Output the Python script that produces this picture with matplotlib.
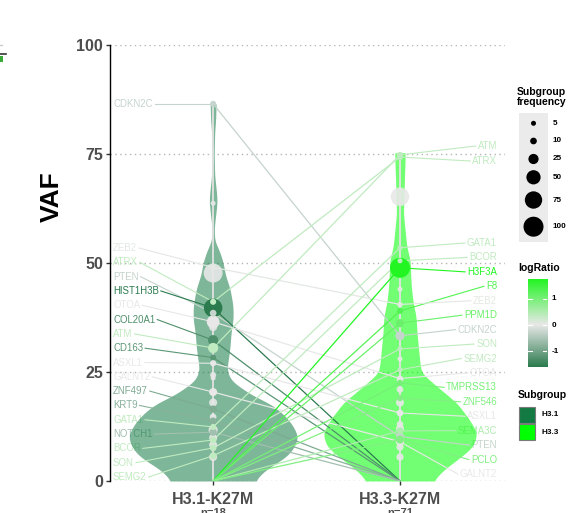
import numpy as np
import matplotlib
matplotlib.use("Agg")
import matplotlib.pyplot as plt
from matplotlib.colors import LinearSegmentedColormap, Normalize
from matplotlib.patches import Rectangle
from matplotlib.lines import Line2D

plt.rcParams['font.family'] = ['Liberation Sans', 'DejaVu Sans']

# ---------------- data ----------------
groups = ["H3.1-K27M", "H3.3-K27M"]
group_n = ["n=18", "n=71"]
group_colors = ["#137a43", "#00ff00"]

genes = ["CDKN2C", "ZEB2", "ATRX", "PTEN", "HIST1H3B", "OTOA", "COL20A1", "ATM", "CD163",
         "ASXL1", "GALNT2", "ZNF497", "KRT9", "GATA1", "NOTCH1", "BCOR", "SON", "SEMG2",
         "H3F3A", "F8", "PPM1D", "TMPRSS13", "ZNF546", "SEMA3C", "PCLO"]
vaf_h31 = [86.5, 49.0, 41.1, 38.5, 39.7, 36.5, 32.3, 30.5, 28.3, 27.0, 20.4, 16.5, 13.8,
           12.4, 11.2, 9.4, 7.6, 5.8, 0, 0, 0, 0, 0, 0, 0]
vaf_h33 = [33.3, 40.5, 74.3, 10.2, 0, 23.5, 0, 74.8, 0, 15.6, 9.0, 0, 0,
           53.5, 0, 50.5, 30.3, 25.5, 48.9, 39.0, 36.2, 22.5, 19.0, 11.5, 9.5]
freq_h31 = [8, 8, 8, 10, 85, 40, 25, 25, 8, 8, 15, 12, 10, 8, 12, 10, 10, 10, 0, 0, 0, 0, 0, 0, 0]
freq_h33 = [20, 5, 8, 15, 0, 8, 0, 8, 0, 10, 15, 0, 0, 5, 0, 5, 5, 5, 100, 8, 15, 8, 8, 10, 15]
log_ratio = [-0.3, 0.05, 0.35, -0.3, -1.61, 0.0, -1.3, 0.35, -1.2, 0.0, 0.0, -0.9, -0.8,
             0.35, -0.6, 0.35, 0.35, 0.35, 1.74, 1.3, 1.1, 1.0, 0.9, 0.5, 0.9]

left_label_order = ["CDKN2C", "ZEB2", "ATRX", "PTEN", "HIST1H3B", "OTOA", "COL20A1", "ATM",
                    "CD163", "ASXL1", "GALNT2", "ZNF497", "KRT9", "GATA1", "NOTCH1", "BCOR",
                    "SON", "SEMG2"]
right_label_order = ["ATM", "ATRX", "GATA1", "BCOR", "H3F3A", "F8", "ZEB2", "PPM1D", "CDKN2C",
                     "SON", "SEMG2", "OTOA", "TMPRSS13", "ZNF546", "ASXL1", "SEMA3C", "PTEN",
                     "PCLO", "GALNT2"]

extra_vaf_h31 = [63.7, 47.7, 35.3, 24.3, 23.6, 18.0, 14.7, 11.7, 9.9, 8.3, 5.5]
extra_freq_h31 = [5, 90, 15, 8, 5, 15, 10, 20, 15, 15, 15]
extra_vaf_h33 = [65.2, 44.0, 40.4, 28.0, 23.2, 21.0, 18.0, 13.0, 12.0, 7.8, 5.5]
extra_freq_h33 = [85, 5, 5, 5, 10, 10, 15, 10, 15, 12, 12]

# violin density profiles (relative half-width vs VAF)
vgrid_h31 = [0, 2.5, 4, 6, 8, 10, 12, 14, 16, 18, 19.5, 21.5, 23, 25.5, 28, 31, 34, 37, 40,
             44, 47.5, 50, 53, 55, 58, 61, 64, 66, 70, 75, 80, 83, 86.5]
dens_h31 = [0.49, 0.61, 0.74, 0.89, 0.96, 1.0, 0.96, 0.89, 0.79, 0.65, 0.47, 0.32, 0.21,
            0.16, 0.18, 0.20, 0.21, 0.235, 0.235, 0.20, 0.14, 0.12, 0.07, 0.018, 0.012,
            0.03, 0.047, 0.041, 0.018, 0.012, 0.018, 0.03, 0.035]
vgrid_h33 = [0, 2.5, 4.8, 7.8, 11, 14, 17.9, 21.6, 24.8, 27, 30, 34, 37.6, 41.5, 45.4, 50.7,
             53.7, 57.6, 61.5, 65, 70, 73, 75.3]
dens_h33 = [0.39, 0.51, 0.67, 0.86, 0.91, 0.82, 0.67, 0.44, 0.25, 0.235, 0.22, 0.20, 0.19,
            0.15, 0.13, 0.12, 0.08, 0.06, 0.04, 0.047, 0.053, 0.06, 0.06]

size_breaks = [5, 10, 25, 50, 75, 100]
lr_ticks = [1, 0, -1]
lr_min, lr_max = -1.61, 1.74

# ---------------- helpers ----------------
W, H = 577, 513
fig = plt.figure(figsize=(W / 100, H / 100), dpi=100)
AX_L, AX_R, AX_T, AX_B = 110, 505, 45, 481
ax = fig.add_axes([AX_L / W, 1 - AX_B / H, (AX_R - AX_L) / W, (AX_B - AX_T) / H])
XL = (0.448, 2.562)
ax.set_xlim(*XL)
ax.set_ylim(0, 100)


def px2x(px):
    return XL[0] + (px - AX_L) / (AX_R - AX_L) * (XL[1] - XL[0])


def px2y(py):
    return (AX_B - py) / (AX_B - AX_T) * 100


def msize(f):
    d = np.sqrt(5.3 + 3.95 * np.asarray(f, dtype=float))
    return (d * 0.72) ** 2


cmap = LinearSegmentedColormap.from_list(
    "lr", [(0.0, "#2b7b4e"), ((0 - lr_min) / (lr_max - lr_min), "#e8e8e8"), (1.0, "#22f522")])
norm = Normalize(lr_min, lr_max)
gcol = {g: cmap(norm(l)) for g, l in zip(genes, log_ratio)}
idx = {g: i for i, g in enumerate(genes)}

# grid
for t in [0, 25, 50, 75, 100]:
    ax.axhline(t, color="#b5b5b5", lw=1.0, ls=(0, (1, 2.5)), zorder=0)

# violins
vw = px2x(AX_L + 85) - XL[0]


def profile(grid, dens):
    y = np.linspace(grid[0], grid[-1], 700)
    w = np.interp(y, grid, dens)
    step = y[1] - y[0]
    sig = 0.9 / step
    k = np.arange(-int(4 * sig), int(4 * sig) + 1)
    ker = np.exp(-0.5 * (k / sig) ** 2)
    ker /= ker.sum()
    wp = np.pad(w, len(k) // 2, mode="edge")
    return y, np.convolve(wp, ker, mode="valid")


for xc, (gr, de), col in zip([1, 2], [(vgrid_h31, dens_h31), (vgrid_h33, dens_h33)], group_colors):
    y, w = profile(gr, de)
    ax.fill_betweenx(y, xc - w * vw, xc + w * vw, color=col, alpha=0.55, lw=0, zorder=2)
    ax.plot([xc, xc], [0, max(gr)], color="#e2e2e2", lw=1.3, zorder=2.5, solid_capstyle="butt")

# connecting lines between groups
for g in genes:
    i = idx[g]
    ax.plot([1, 2], [vaf_h31[i], vaf_h33[i]], color=gcol[g], lw=0.9, zorder=3)

# points
ex_col = cmap(norm(0.0))
ax.scatter([1] * len(extra_vaf_h31), extra_vaf_h31, s=msize(extra_freq_h31), color=ex_col,
           lw=0, zorder=4, alpha=0.9, clip_on=False)
ax.scatter([2] * len(extra_vaf_h33), extra_vaf_h33, s=msize(extra_freq_h33), color=ex_col,
           lw=0, zorder=4, alpha=0.9, clip_on=False)
for xc, vals, fr in [(1, vaf_h31, freq_h31), (2, vaf_h33, freq_h33)]:
    pts = [(vals[i], fr[i], gcol[g]) for i, g in enumerate(genes) if fr[i] > 0]
    pts.sort(key=lambda p: -p[1])
    ax.scatter([xc] * len(pts), [p[0] for p in pts], s=msize([p[1] for p in pts]),
               color=[p[2] for p in pts], lw=0, zorder=5, clip_on=False)

# labels
left_y = {"CDKN2C": vaf_h31[idx["CDKN2C"]]}
for g, yy in zip(left_label_order[1:], np.linspace(px2y(248), px2y(477), len(left_label_order) - 1)):
    left_y[g] = yy
right_y = {"ATM": px2y(146), "ATRX": px2y(161)}
for g, yy in zip(right_label_order[2:], np.linspace(px2y(243), px2y(474), len(right_label_order) - 2)):
    right_y[g] = yy

ltexts, rtexts = [], []
for g in left_label_order:
    t = ax.text(px2x(113), left_y[g], g, ha="left", va="center", fontsize=6.9,
                color=gcol[g], zorder=1)
    ltexts.append((g, t))
for g in right_label_order:
    t = ax.text(px2x(497), right_y[g], g, ha="right", va="center", fontsize=6.9,
                color=gcol[g], zorder=1)
    rtexts.append((g, t))

fig.canvas.draw()
rend = fig.canvas.get_renderer()
inv = ax.transData.inverted()
for g, t in ltexts:
    bb = t.get_window_extent(rend)
    x0 = inv.transform((bb.x1 + 2, bb.y0))[0]
    ax.plot([x0, 1], [left_y[g], vaf_h31[idx[g]]], color=gcol[g], lw=0.8, zorder=3)
for g, t in rtexts:
    bb = t.get_window_extent(rend)
    x0 = inv.transform((bb.x0 - 2, bb.y0))[0]
    ax.plot([2, x0], [vaf_h33[idx[g]], right_y[g]], color=gcol[g], lw=0.8, zorder=3)

# axes styling
for s in ["top", "right", "bottom"]:
    ax.spines[s].set_visible(False)
ax.spines["left"].set_linewidth(1.0)
ax.set_yticks([0, 25, 50, 75, 100])
ax.set_yticklabels(["0", "25", "50", "75", "100"], fontsize=11.5, fontweight="bold", color="#4d4d4d")
ax.set_xticks([1, 2])
ax.set_xticklabels(groups, fontsize=11.5, fontweight="bold", color="#4d4d4d")
ax.tick_params(axis="y", length=3, width=1, color="#333333", pad=2)
ax.tick_params(axis="x", length=3, width=1, color="#333333", pad=5)
ax.set_ylabel("VAF", fontsize=19, fontweight="bold", color="black")
ax.yaxis.set_label_coords((64 - AX_L) / (AX_R - AX_L), (AX_B - 197) / (AX_B - AX_T))
ax.patch.set_visible(False)

# overlay for legends (pixel coordinates)
ov = fig.add_axes([0, 0, 1, 1])
ov.set_xlim(0, W)
ov.set_ylim(H, 0)
ov.axis("off")
ov.patch.set_visible(False)

for px, lab in zip([213, 400], group_n):
    ov.text(px, 507.5, lab, ha="center", va="top", fontsize=8, fontweight="bold", color="#4d4d4d")

# clipped artifacts on the far left
ov.add_line(Line2D([0, 2], [45, 45], color="#cccccc", lw=1))
ov.add_line(Line2D([0, 6], [54.3, 54.3], color="#333333", lw=1.2))
ov.add_patch(Rectangle((0, 56), 3, 6, color="#3aaa3a", lw=0))

# size legend
ov.text(517, 97, "Subgroup\nfrequency", ha="left", va="center", fontsize=7.5,
        fontweight="bold", linespacing=1.0)
ov.add_patch(Rectangle((519, 113), 29, 129, color="#ebebeb", lw=0))
ys = [123.3, 141, 159, 177.3, 200, 226.7]
ov.scatter([533.5] * 6, ys, s=msize(size_breaks), color="black", lw=0)
for yy, b in zip(ys, size_breaks):
    ov.text(553, yy, str(b), ha="left", va="center", fontsize=5.9, fontweight="bold")

# logRatio colorbar
ov.text(518, 268, "logRatio", ha="left", va="center", fontsize=7.5, fontweight="bold")
cb_top, cb_bot = 279.3, 367.3
cax = fig.add_axes([527.7 / W, 1 - cb_bot / H, 19.6 / W, (cb_bot - cb_top) / H])
grad = np.linspace(lr_min, lr_max, 256).reshape(-1, 1)
cax.imshow(grad, extent=[0, 1, lr_min, lr_max], origin="lower", aspect="auto", cmap=cmap, norm=norm)
cax.set_xlim(0, 1)
cax.set_ylim(lr_min, lr_max)
cax.axis("off")
for v in lr_ticks:
    cax.plot([0, 0.2], [v, v], color="white", lw=0.8)
    cax.plot([0.8, 1], [v, v], color="white", lw=0.8)
    ypx = cb_top + (lr_max - v) / (lr_max - lr_min) * (cb_bot - cb_top)
    ov.text(552, ypx, str(v), ha="left", va="center", fontsize=5.9, fontweight="bold")

# subgroup legend
ov.text(518, 395, "Subgroup", ha="left", va="center", fontsize=7.5, fontweight="bold")
for k, (lab, col) in enumerate(zip(["H3.1", "H3.3"], group_colors)):
    y0 = 407 + k * 17
    ov.add_patch(Rectangle((518.5, y0), 16, 16, facecolor=col, edgecolor="#7a7a7a", lw=0.8))
    ov.text(541, y0 + 8, lab, ha="left", va="center", fontsize=5.9, fontweight="bold")

fig.savefig("out.png", dpi=100)
